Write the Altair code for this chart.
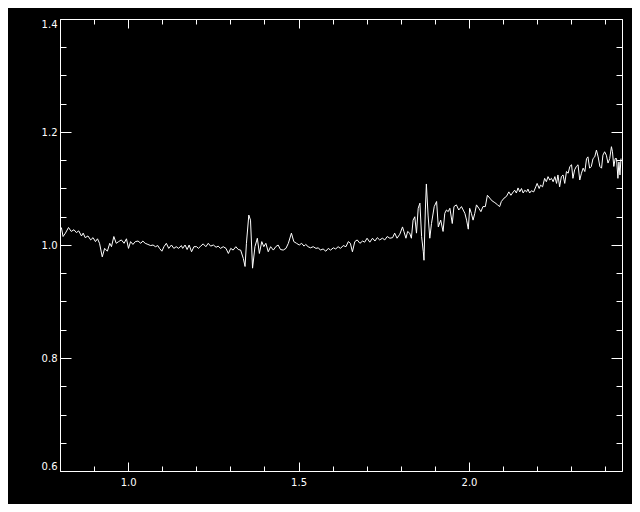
import altair as alt
import pandas as pd

wavelength = [
    0.804, 0.809, 0.816, 0.825, 0.833, 0.841, 0.848, 0.855, 0.863, 0.868,
    0.874, 0.882, 0.890, 0.897, 0.904, 0.910, 0.916, 0.924, 0.931, 0.939,
    0.946, 0.951, 0.958, 0.965, 0.972, 0.980, 0.988, 0.995, 1.001, 1.007,
    1.014, 1.021, 1.029, 1.037, 1.043, 1.050, 1.058, 1.066, 1.073, 1.080,
    1.087, 1.092, 1.099, 1.105, 1.112, 1.119, 1.127, 1.134, 1.141, 1.148, 1.156,
    1.160, 1.167, 1.173, 1.179, 1.186, 1.193, 1.201, 1.206, 1.213, 1.220,
    1.228, 1.235, 1.242, 1.250, 1.258, 1.264, 1.271, 1.279, 1.287, 1.294,
    1.301, 1.308, 1.316, 1.323, 1.330, 1.338, 1.343, 1.347, 1.354, 1.359,
    1.365, 1.372, 1.379, 1.385, 1.392, 1.398, 1.404, 1.411, 1.418, 1.426,
    1.433, 1.440, 1.447, 1.455, 1.463, 1.470, 1.479, 1.486, 1.494, 1.502, 1.509, 1.516,
    1.521, 1.528, 1.535, 1.543, 1.551, 1.558, 1.564, 1.572, 1.580, 1.587,
    1.594, 1.602, 1.609, 1.616, 1.623, 1.631, 1.639, 1.646, 1.652, 1.658,
    1.665, 1.672, 1.680, 1.688, 1.694, 1.701, 1.709, 1.717, 1.724, 1.731,
    1.738, 1.746, 1.753, 1.760, 1.768, 1.776, 1.782, 1.789, 1.797, 1.805, 1.809, 1.815,
    1.820, 1.826, 1.831, 1.836, 1.841, 1.846, 1.851, 1.856, 1.861, 1.866,
    1.868, 1.872, 1.875, 1.880, 1.885, 1.890, 1.898, 1.905, 1.910, 1.917,
    1.924, 1.929, 1.934, 1.939, 1.944, 1.951, 1.956, 1.963, 1.970, 1.978,
    1.983, 1.988, 1.993, 1.998, 2.002, 2.007, 2.012, 2.017, 2.022, 2.029,
    2.035, 2.041, 2.048, 2.054, 2.061, 2.068, 2.076, 2.084, 2.090, 2.095,
    2.103, 2.110, 2.117, 2.123, 2.130,
    2.134, 2.139, 2.144, 2.149, 2.154, 2.159, 2.164, 2.169, 2.173, 2.178,
    2.183, 2.190, 2.196, 2.200, 2.206, 2.210, 2.216, 2.222, 2.227, 2.232,
    2.237, 2.242, 2.247, 2.252, 2.257, 2.261, 2.266, 2.271, 2.276, 2.281,
    2.286, 2.291, 2.296, 2.301, 2.305, 2.310, 2.315, 2.320, 2.325, 2.330,
    2.335, 2.340, 2.345, 2.349, 2.354, 2.359, 2.364, 2.369, 2.374, 2.379,
    2.384, 2.389, 2.393, 2.398, 2.403, 2.408, 2.413, 2.418, 2.421, 2.425,
    2.429, 2.433, 2.437, 2.440, 2.443, 2.446,
]

ratio = [
    1.031, 1.015, 1.021, 1.031, 1.024, 1.027, 1.022, 1.025, 1.016, 1.021,
    1.013, 1.016, 1.009, 1.013, 1.006, 1.011, 1.003, 0.979, 0.994, 0.989,
    1.003, 0.997, 1.015, 1.003, 1.006, 1.009, 1.003, 1.011, 0.994, 1.006,
    1.001, 1.006, 1.007, 1.003, 1.007, 1.003, 1.001, 0.999, 1.000, 0.997,
    0.999, 0.994, 0.989, 0.997, 1.003, 0.994, 1.000, 0.994, 0.997, 0.994, 0.999,
    0.994, 1.000, 0.992, 1.000, 0.988, 0.997, 0.997, 0.994, 0.998, 1.002,
    0.997, 1.003, 0.998, 1.000, 0.996, 0.998, 0.994, 0.997, 0.994, 0.985,
    0.994, 0.991, 0.997, 0.992, 0.991, 0.976, 0.962, 1.003, 1.053, 1.044,
    0.959, 0.997, 1.012, 0.985, 1.006, 0.997, 1.003, 0.988, 0.997, 0.991,
    0.997, 1.000, 0.992, 0.991, 0.994, 1.003, 1.021, 1.006, 1.003, 1.000, 1.003, 0.998,
    1.001, 0.997, 0.995, 0.997, 0.994, 0.995, 0.991, 0.993, 0.989, 0.994,
    0.991, 0.995, 0.993, 0.997, 0.994, 0.999, 0.997, 1.006, 1.003, 0.988,
    1.006, 1.009, 1.003, 1.007, 1.005, 1.012, 1.005, 1.012, 1.007, 1.013,
    1.009, 1.012, 1.009, 1.015, 1.012, 1.013, 1.021, 1.012, 1.019, 1.032, 1.024, 1.012,
    1.024, 1.021, 1.012, 1.044, 1.050, 1.021, 1.065, 1.074, 1.015, 0.988,
    0.973, 1.062, 1.108, 1.053, 1.012, 1.038, 1.068, 1.077, 1.032, 1.044,
    1.024, 1.056, 1.062, 1.059, 1.065, 1.038, 1.068, 1.071, 1.062, 1.068,
    1.062, 1.056, 1.044, 1.028, 1.065, 1.056, 1.044, 1.056, 1.071, 1.065,
    1.059, 1.068, 1.068, 1.088, 1.083, 1.078, 1.075, 1.071, 1.068, 1.077,
    1.083, 1.086, 1.094, 1.088, 1.094,
    1.097, 1.092, 1.101, 1.094, 1.100, 1.092, 1.097, 1.094, 1.099, 1.092,
    1.096, 1.094, 1.103, 1.109, 1.100, 1.106, 1.103, 1.118, 1.112, 1.121,
    1.115, 1.118, 1.112, 1.121, 1.109, 1.124, 1.103, 1.121, 1.124, 1.109,
    1.130, 1.127, 1.139, 1.142, 1.118, 1.133, 1.139, 1.142, 1.115, 1.127,
    1.136, 1.130, 1.153, 1.156, 1.136, 1.139, 1.153, 1.156, 1.168, 1.156,
    1.139, 1.136, 1.159, 1.165, 1.159, 1.145, 1.153, 1.174, 1.165, 1.139,
    1.153, 1.153, 1.118, 1.147, 1.124, 1.153,
]

x_label_ticks = [1.0, 1.5, 2.0]
x_minor_ticks = [0.8, 0.9, 1.0, 1.1, 1.2, 1.3, 1.4, 1.5, 1.6, 1.7, 1.8, 1.9, 2.0, 2.1, 2.2, 2.3, 2.4]
y_label_ticks = [0.6, 0.8, 1.0, 1.2, 1.4]
y_minor_ticks = [0.6, 0.65, 0.7, 0.75, 0.8, 0.85, 0.9, 0.95, 1.0, 1.05, 1.1, 1.15,
                 1.2, 1.25, 1.3, 1.35, 1.4]

df = pd.DataFrame({"x": wavelength, "y": ratio})

W, H = 562, 452
xs = alt.Scale(domain=[0.8, 2.449], nice=False, zero=False)
ys = alt.Scale(domain=[0.6, 1.4], nice=False, zero=False)


def tick_axis(orient, values, size, offset):
    return alt.Axis(orient=orient, values=values, labels=False, domain=False,
                    grid=False, ticks=True, tickSize=size, tickColor="white",
                    tickWidth=1, offset=offset, title=None)


def label_axis(orient, values, pad):
    return alt.Axis(orient=orient, values=values, labels=True, domain=False,
                    grid=False, ticks=False, tickSize=0, title=None,
                    labelColor="white", labelFont="DejaVu Sans", labelFontSize=10,
                    labelPadding=pad, labelFlush=True, format=".1f")


base = alt.Chart(df)

main = base.mark_line(color="white", strokeWidth=1, clip=True).encode(
    x=alt.X("x:Q", scale=xs, axis=label_axis("bottom", x_label_ticks, 6)),
    y=alt.Y("y:Q", scale=ys, axis=label_axis("left", y_label_ticks, 3)),
)

# inward ticks: bottom (major/minor), top (major/minor), left, right
l_bot_major = base.mark_line(opacity=0).encode(
    x=alt.X("x:Q", scale=xs, axis=tick_axis("top", x_label_ticks, 9, -H)),
    y=alt.Y("y:Q", scale=ys, axis=tick_axis("right", y_label_ticks, 11, -W)),
)
l_bot_minor = base.mark_line(opacity=0).encode(
    x=alt.X("x:Q", scale=xs, axis=tick_axis("top", x_minor_ticks, 5, -H)),
    y=alt.Y("y:Q", scale=ys, axis=tick_axis("right", y_minor_ticks, 6, -W)),
)
l_top_major = base.mark_line(opacity=0).encode(
    x=alt.X("x:Q", scale=xs, axis=tick_axis("bottom", x_label_ticks, 9, -H)),
    y=alt.Y("y:Q", scale=ys, axis=tick_axis("left", y_label_ticks, 11, -W)),
)
l_top_minor = base.mark_line(opacity=0).encode(
    x=alt.X("x:Q", scale=xs, axis=tick_axis("bottom", x_minor_ticks, 5, -H)),
    y=alt.Y("y:Q", scale=ys, axis=tick_axis("left", y_minor_ticks, 6, -W)),
)

chart = (
    alt.layer(main, l_bot_major, l_bot_minor, l_top_major, l_top_minor)
    .resolve_axis(x="independent", y="independent")
    .properties(
        width=W,
        height=H,
        background="black",
        padding={"left": 52, "top": 11, "right": 10, "bottom": 33},
        autosize=alt.AutoSizeParams(type="none"),
    )
    .configure_view(stroke="white", strokeWidth=1)
)

chart.save("out.html", embed_options={"renderer": "svg", "actions": False})
